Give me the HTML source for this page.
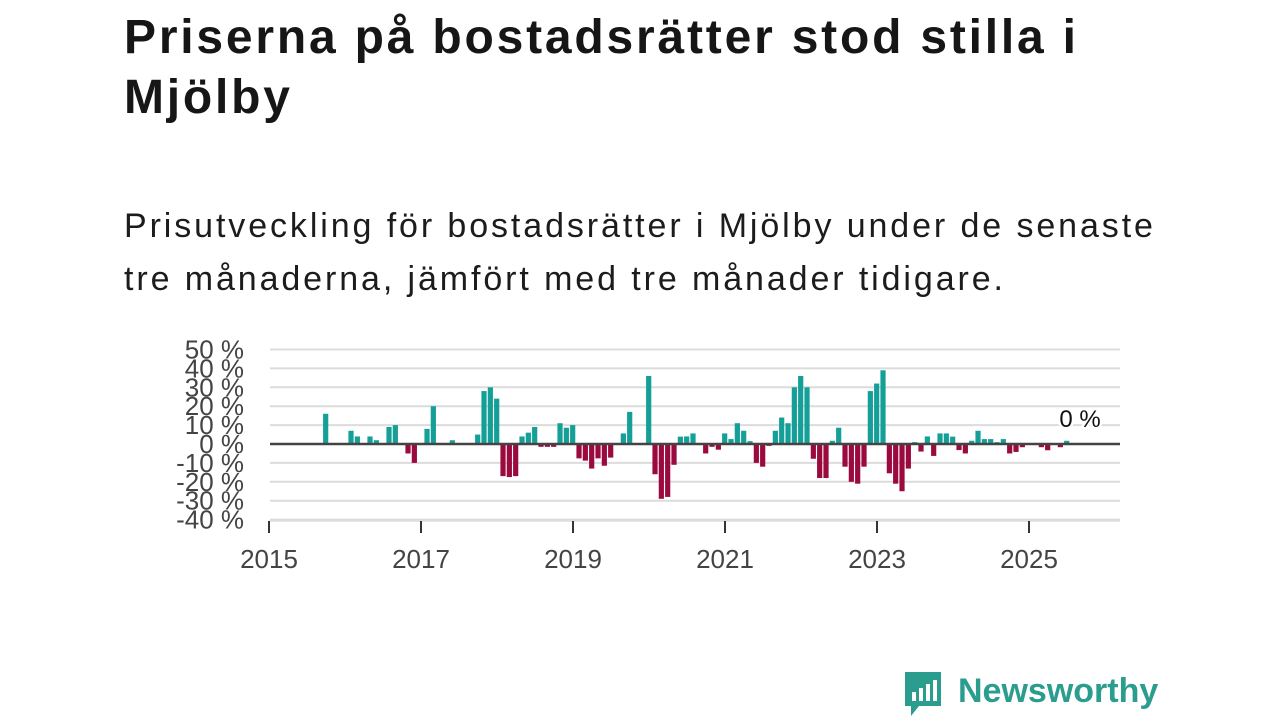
<!DOCTYPE html>
<html><head><meta charset="utf-8">
<style>
body{margin:0;width:1280px;height:720px;background:#fff;font-family:"Liberation Sans",sans-serif;overflow:hidden;position:relative}
h1{position:absolute;left:124px;top:8px;margin:0;font-size:48px;line-height:60px;font-weight:bold;color:#161616;width:1150px;letter-spacing:2.8px}
p.sub{position:absolute;left:124px;top:200px;margin:0;font-size:34px;line-height:53px;color:#1c1c1c;width:1150px;letter-spacing:2.9px}
svg{position:absolute;left:0;top:0}
.logo{position:absolute;left:903px;top:670px;height:48px}
.logo span{position:absolute;left:55px;top:2px;font-size:34px;font-weight:bold;color:#2a9d8f;white-space:nowrap}
</style></head><body>
<h1>Priserna på bostadsrätter stod stilla i<br>Mjölby</h1>
<p class="sub">Prisutveckling för bostadsrätter i Mjölby under de senaste<br>tre månaderna, jämfört med tre månader tidigare.</p>
<svg id="chart" width="1280" height="720"></svg>
<div class="logo">
<svg width="40" height="48" style="position:absolute;left:0;top:0">
<path d="M2 2h36v34H16l-8 10v-10H2z" fill="#2a9d8f"/>
<rect x="9" y="22" width="4" height="9" fill="#fff"/><rect x="16" y="18" width="4" height="13" fill="#fff"/><rect x="23" y="14" width="4" height="17" fill="#fff"/><rect x="30" y="10" width="4" height="21" fill="#fff"/>
</svg>
<span>Newsworthy</span></div>
<script>
const months=[8,12,13,15,16,18,19,21,22,24,25,28,32,33,34,35,36,37,38,39,40,41,42,43,44,45,46,47,48,49,50,51,52,53,55,56,59,60,61,62,63,64,65,66,68,69,70,71,72,73,74,75,76,77,78,79,80,81,82,83,84,85,86,87,88,89,90,91,92,93,94,95,96,97,98,99,100,101,102,103,104,105,106,107,108,109,110,111,112,113,114,115,116,117,118,121,122,124,125];
const values=[16,7,4,4,2,9,10,-5,-10,8,20,2,5,28,30,24,-17,-17.5,-17,4,6,9,-1.5,-1.5,-1.5,11,8.6,10,-7.6,-8.8,-13,-7.6,-11.5,-7.2,5.6,17,36,-16,-29,-28,-11,3.9,4,5.6,-5,-1.5,-3,5.6,2.6,11,7,1.5,-10,-12,-1,7,14,11,30,36,30,-7.8,-18,-18,1.7,8.6,-12,-20,-21,-12,28,32,39,-15.5,-21,-25,-13,1,-4,4,-6.3,5.6,5.6,3.9,-3.2,-5,1.7,7,2.6,2.6,1,2.6,-5,-4.2,-1.7,-1.7,-3.3,-1.7,1.7];
const yTicks=[50,40,30,20,10,0,-10,-20,-30,-40];
const xYears=[2015,2017,2019,2021,2023,2025];
const lastLabel="0 %";
const NS="http://www.w3.org/2000/svg";
const svg=document.getElementById('chart');
const yS=v=>444-v*1.89;
const xYear=y=>269+76*(y-2015);
const xMonth=i=>269+76/12*(i+0.95);
function mk(t,a){const e=document.createElementNS(NS,t);for(const k in a)e.setAttribute(k,a[k]);svg.appendChild(e);return e;}
yTicks.forEach(t=>{
 if(t!==0){const g=mk('line',{x1:270,x2:1120,y1:yS(t),y2:yS(t),stroke:'#dcdcdc','stroke-width':2});
 
 }
 const l=mk('text',{x:244,y:yS(t)+9,'text-anchor':'end','font-size':26,fill:'#444'});
 l.textContent=t+' %';
 
 
});
const ax=mk('line',{x1:269,x2:1120,y1:521,y2:521,stroke:'#ddd','stroke-width':1.5});


xYears.forEach(y=>{
 const tk=mk('line',{x1:xYear(y),x2:xYear(y),y1:521,y2:533,stroke:'#333','stroke-width':2});
 
 
 const l=mk('text',{x:xYear(y),y:568,'text-anchor':'middle','font-size':26,fill:'#444'});
 l.textContent=y;
 
 
});
months.forEach((m,i)=>{
 const v=values[i],c=xMonth(m);
 const b=mk('rect',{x:c-2.6,width:5.2,y:Math.min(yS(v),444),height:Math.abs(yS(v)-444),fill:v>=0?'#14a098':'#9b0a3f'});
 
 
});
const z=mk('line',{x1:270,x2:1120,y1:444,y2:444,stroke:'#444','stroke-width':2.5});


const ll=mk('text',{x:1080,y:427,'text-anchor':'middle','font-size':24,fill:'#111',stroke:'#fff','stroke-width':5,'paint-order':'stroke'});
ll.textContent=lastLabel;


</script>
</body></html>
